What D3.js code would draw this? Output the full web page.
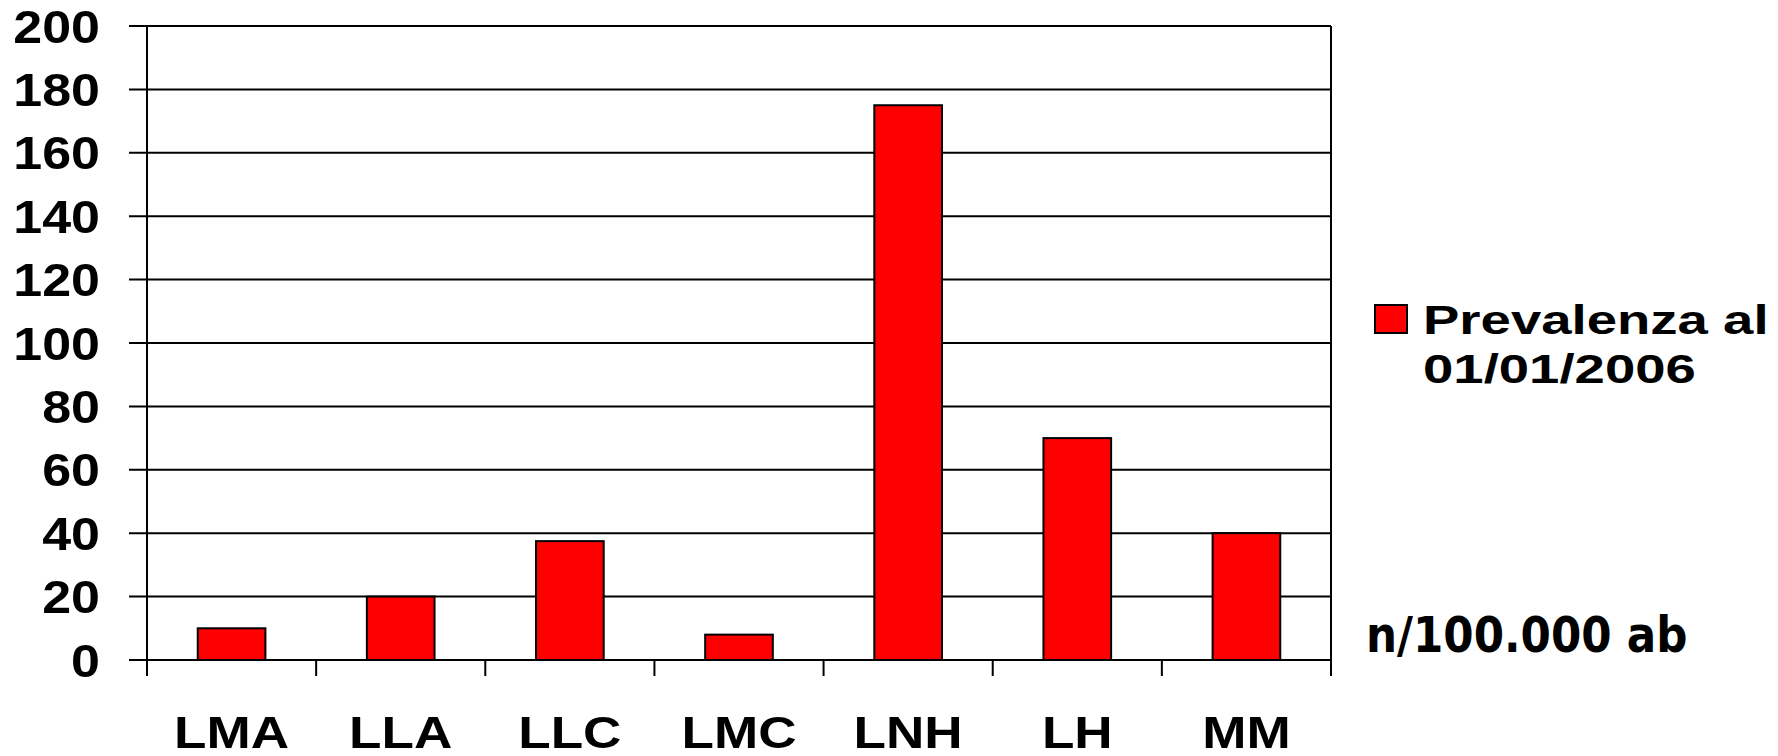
<!DOCTYPE html>
<html>
<head>
<meta charset="utf-8">
<script src="https://cdn.jsdelivr.net/npm/d3@7"></script>
<style>
  html, body { margin: 0; padding: 0; background: #fff; }
  svg { display: block; }
</style>
</head>
<body>
<svg id="chart" width="1778" height="756"></svg>
<script>
// Prevalence per 100,000 inhabitants by haematological malignancy
const categories = ["LMA", "LLA", "LLC", "LMC", "LNH", "LH", "MM"];
const prevalenza = [10, 20, 37.5, 8, 175, 70, 40];
const yTicks = [0, 20, 40, 60, 80, 100, 120, 140, 160, 180, 200];
const seriesName = ["Prevalenza al", "01/01/2006"];
const unitLabel = "n/100.000 ab";

const svg = d3.select("#chart");
const plot = { left: 147, right: 1331, top: 26, bottom: 660 };

const x = d3.scaleBand()
  .domain(categories)
  .range([plot.left, plot.right])
  .paddingInner(0.6)
  .paddingOuter(0.3);

const y = d3.scaleLinear()
  .domain([0, 200])
  .range([plot.bottom, plot.top]);

// horizontal gridlines, extending left of the axis as tick marks
svg.append("g")
  .selectAll("line")
  .data(yTicks)
  .join("line")
  .attr("x1", plot.left - 18)
  .attr("x2", plot.right)
  .attr("y1", d => y(d))
  .attr("y2", d => y(d))
  .attr("stroke", "#000")
  .attr("stroke-width", 2);

// bars
svg.append("g")
  .selectAll("rect")
  .data(categories.map((c, i) => ({ c, v: prevalenza[i] })))
  .join("rect")
  .attr("x", d => x(d.c))
  .attr("width", x.bandwidth())
  .attr("y", d => y(d.v))
  .attr("height", d => y(0) - y(d.v))
  .attr("fill", "#ff0000")
  .attr("stroke", "#000")
  .attr("stroke-width", 2);

// category separators below the baseline
const boundaries = d3.range(categories.length + 1).map(i => plot.left + i * (plot.right - plot.left) / categories.length);
svg.append("g")
  .selectAll("line")
  .data(boundaries)
  .join("line")
  .attr("x1", d => d)
  .attr("x2", d => d)
  .attr("y1", plot.bottom)
  .attr("y2", plot.bottom + 16)
  .attr("stroke", "#000")
  .attr("stroke-width", 2);

// left axis and right frame
[plot.left, plot.right].forEach(px => {
  svg.append("line")
    .attr("x1", px).attr("x2", px)
    .attr("y1", plot.top).attr("y2", plot.bottom + 16)
    .attr("stroke", "#000")
    .attr("stroke-width", 2);
});

// y tick labels
svg.append("g")
  .selectAll("text")
  .data(yTicks)
  .join("text")
  .attr("transform", d => `translate(100,${y(d) + 16.5}) scale(1.13,1)`)
  .attr("text-anchor", "end")
  .attr("font-family", "Liberation Sans, Arial, sans-serif")
  .attr("font-weight", "bold")
  .attr("font-size", 46)
  .attr("fill", "#000")
  .text(d => d);

// category labels
svg.append("g")
  .selectAll("text")
  .data(categories)
  .join("text")
  .attr("transform", d => `translate(${x(d) + x.bandwidth() / 2},748) scale(1.18,1)`)
  .attr("text-anchor", "middle")
  .attr("font-family", "Liberation Sans, Arial, sans-serif")
  .attr("font-weight", "bold")
  .attr("font-size", 45)
  .attr("fill", "#000")
  .text(d => d);

// legend
const legend = svg.append("g");
legend.append("rect")
  .attr("x", 1375).attr("y", 305)
  .attr("width", 32).attr("height", 28)
  .attr("fill", "#ff0000")
  .attr("stroke", "#000")
  .attr("stroke-width", 2);
legend.selectAll("text")
  .data(seriesName)
  .join("text")
  .attr("transform", (d, i) => `translate(1423,${334 + i * 49}) scale(1.33,1)`)
  .attr("font-family", "Liberation Sans, Arial, sans-serif")
  .attr("font-weight", "bold")
  .attr("font-size", 41)
  .attr("fill", "#000")
  .text(d => d);

// unit note
svg.append("text")
  .attr("transform", "translate(1366,652) scale(0.89,1)")
  .attr("font-family", "Comic Sans MS, DejaVu Sans, sans-serif")
  .attr("font-weight", "bold")
  .attr("font-size", 49)
  .attr("fill", "#000")
  .text(unitLabel);
</script>
</body>
</html>
